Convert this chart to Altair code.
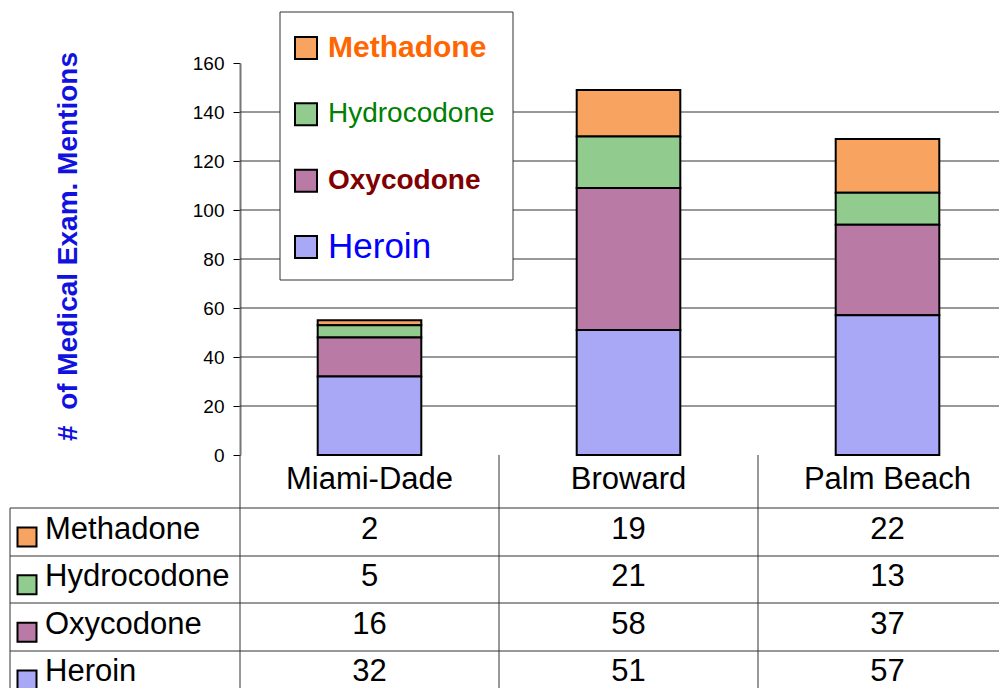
import altair as alt
import pandas as pd

# ---------------- data ----------------
counties = ["Miami-Dade", "Broward", "Palm Beach"]
series = ["Methadone", "Hydrocodone", "Oxycodone", "Heroin"]  # legend / table order (top to bottom)
methadone = [2, 19, 22]
hydrocodone = [5, 21, 13]
oxycodone = [16, 58, 37]
heroin = [32, 51, 57]
y_ticks = [0, 20, 40, 60, 80, 100, 120, 140, 160]
grid_values = [20, 40, 60, 80, 100, 120, 140]
y_title = "#\u00a0 of Medical Exam. Mentions"

values = {"Methadone": methadone, "Hydrocodone": hydrocodone,
          "Oxycodone": oxycodone, "Heroin": heroin}

rows = []
for i, s in enumerate(series):
    for c, v in zip(counties, values[s]):
        rows.append({"county": c, "series": s, "value": v, "stack": len(series) - 1 - i})
df = pd.DataFrame(rows)
df_series = pd.DataFrame({"series": series})
df_counties = pd.DataFrame({"county": counties})
df_grid = pd.DataFrame({"v": grid_values})

# ---------------- styles ----------------
FONT = "Liberation Sans, Arial, sans-serif"
bar_colors = ["#F8A35F", "#92CB8E", "#B97AA6", "#A8A8F6"]
legend_style = {
    "Methadone": dict(size=30, weight="bold", color="#FF6600"),
    "Hydrocodone": dict(size=28, weight="normal", color="#008000"),
    "Oxycodone": dict(size=28, weight="bold", color="#800000"),
    "Heroin": dict(size=35, weight="normal", color="#0000FF"),
}
W, H = 759, 392
TABLE_FS = 31

color_scale = alt.Scale(domain=series, range=bar_colors)
xscale = alt.Scale(domain=counties, range=[0, 777], paddingInner=0.6, paddingOuter=0.3)
yscale = alt.Scale(domain=[0, 160], nice=False, zero=True)
leg_scale = alt.Scale(type="point", domain=series, range=[-15, 184], padding=0)
table_scale = alt.Scale(type="point", domain=series, range=[467, 609], padding=0)
table_sw_scale = alt.Scale(type="point", domain=series, range=[474, 617], padding=0)

# ---------------- layers ----------------
grid = alt.Chart(df_grid).mark_rule(color="#333333", strokeWidth=1).encode(
    y=alt.Y("v:Q", scale=yscale, axis=None),
    x=alt.value(0), x2=alt.value(W + 10),
)

bars = alt.Chart(df).mark_bar(stroke="black", strokeWidth=2).encode(
    x=alt.X("county:N", scale=xscale, sort=counties,
            axis=alt.Axis(labels=False, ticks=False, domain=True, domainColor="black",
                          domainWidth=2, title=None)),
    y=alt.Y("value:Q", stack="zero", scale=yscale,
            axis=alt.Axis(values=y_ticks, grid=False, tickSize=7, tickColor="black",
                          tickWidth=1, domainColor="#777777", domainWidth=2,
                          labelFontSize=19, labelFont=FONT, labelColor="black",
                          labelPadding=9, title=y_title, titleFont=FONT,
                          titleFontSize=28, titleFontWeight="bold", titleColor="#1212E0",
                          titleX=-172, titleY=183, titleAngle=270,
                          titleAlign="center", titleBaseline="middle")),
    color=alt.Color("series:N", scale=color_scale, legend=None),
    order=alt.Order("stack:Q"),
)

legend_box = alt.Chart(df_counties.head(1)).mark_rect(
    fill="white", stroke="#333333", strokeWidth=1).encode(
    x=alt.value(40), x2=alt.value(273), y=alt.value(-51), y2=alt.value(217))

legend_sw = alt.Chart(df_series).mark_square(
    size=484, stroke="black", strokeWidth=2, opacity=1).encode(
    x=alt.value(66),
    y=alt.Y("series:N", scale=leg_scale, axis=None),
    color=alt.Color("series:N", scale=color_scale, legend=None),
)

legend_texts = []
for s in series:
    st = legend_style[s]
    legend_texts.append(
        alt.Chart(df_series).transform_filter(alt.datum.series == s).mark_text(
            align="left", baseline="middle", font=FONT, fontSize=st["size"],
            fontWeight=st["weight"], color=st["color"]).encode(
            x=alt.value(88),
            y=alt.Y("series:N", scale=leg_scale, axis=None),
            text="series:N")
    )

# table lines (structure)
line_specs = [
    (-230, W + 10, 445, 445), (-230, W + 10, 493, 493),
    (-230, W + 10, 540, 540), (-230, W + 10, 588, 588),
    (-230, -230, 445, 640), (0, 0, 392, 640),
    (259, 259, 392, 640), (518, 518, 392, 640),
]
table_lines = [
    alt.Chart(df_counties.head(1)).mark_rule(color="#333333", strokeWidth=1).encode(
        x=alt.value(a), x2=alt.value(b), y=alt.value(c), y2=alt.value(d))
    for a, b, c, d in line_specs
]

header = alt.Chart(df_counties).mark_text(
    font=FONT, fontSize=TABLE_FS, baseline="middle", color="black").encode(
    x=alt.X("county:N", scale=xscale, sort=counties, axis=None),
    y=alt.value(417), text="county:N")

cells = alt.Chart(df).mark_text(
    font=FONT, fontSize=TABLE_FS, baseline="middle", color="black").encode(
    x=alt.X("county:N", scale=xscale, sort=counties, axis=None),
    y=alt.Y("series:N", scale=table_scale, axis=None),
    text="value:Q")

row_labels = alt.Chart(df_series).mark_text(
    font=FONT, fontSize=TABLE_FS, align="left", baseline="middle", color="black").encode(
    x=alt.value(-195),
    y=alt.Y("series:N", scale=table_scale, axis=None),
    text="series:N")

row_sw = alt.Chart(df_series).mark_square(
    size=361, stroke="black", strokeWidth=2, opacity=1).encode(
    x=alt.value(-213),
    y=alt.Y("series:N", scale=table_sw_scale, axis=None),
    color=alt.Color("series:N", scale=color_scale, legend=None),
)

chart = alt.layer(
    grid, bars, legend_box, legend_sw, *legend_texts,
    *table_lines, header, cells, row_labels, row_sw,
).resolve_scale(y="independent").properties(
    width=W, height=H,
    autosize=alt.AutoSizeParams(type="none"),
    padding={"left": 232, "top": 55, "right": 0, "bottom": 233},
    background="white",
).configure_view(stroke=None)

chart.save("out.html", embed_options={"renderer": "svg", "actions": False})
